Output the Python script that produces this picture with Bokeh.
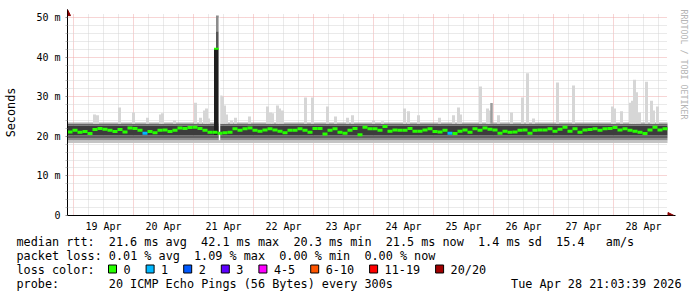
import re
from bokeh.plotting import figure
from bokeh.models import Range1d, FixedTicker, Arrow, NormalHead, Title, Grid
from bokeh.layouts import column
from bokeh.core.properties import value
from bokeh.embed import file_html
from bokeh.resources import INLINE

# ---------------- data ----------------
# time is in hours since 18 Apr 2026 00:00
t_start = 21.6
t_end = 261.6
bin_hours = 2.0

day_labels = ["19 Apr", "20 Apr", "21 Apr", "22 Apr", "23 Apr",
              "24 Apr", "25 Apr", "26 Apr", "27 Apr", "28 Apr"]
y_ticks = [0, 10, 20, 30, 40, 50]
y_tick_labels = ["0", "10 m", "20 m", "30 m", "40 m", "50 m"]

# median rtt (ms) per 2-hour bin
median_ms = [
    21.1, 21.5, 21.0, 21.2, 20.7, 21.7, 22.0, 21.8, 21.5, 21.2,
    21.7, 21.1, 22.1, 22.0, 21.5, 20.8, 21.2, 20.9, 21.5, 21.6,
    21.2, 21.5, 22.1, 22.0, 22.2, 22.3, 22.0, 21.5, 21.0, 21.0,
    20.8, 20.9, 21.0, 21.9, 21.5, 21.9, 22.1, 21.5, 21.3, 21.6,
    21.9, 21.6, 21.3, 20.9, 21.5, 21.5, 21.9, 21.5, 21.0, 22.0,
    22.0, 20.6, 21.5, 21.9, 21.0, 20.8, 21.5, 22.0, 20.4, 22.3,
    21.9, 21.9, 21.5, 22.5, 21.3, 21.6, 21.5, 21.5, 22.0, 21.3,
    21.3, 21.6, 21.9, 21.2, 21.1, 21.5, 20.8, 20.7, 21.3, 21.6,
    21.0, 21.9, 21.5, 22.1, 21.8, 21.6, 20.8, 21.3, 21.0, 21.1,
    21.5, 21.6, 20.8, 21.5, 21.6, 21.6, 21.9, 21.3, 21.8, 22.3,
    21.3, 21.9, 21.0, 21.6, 21.7, 21.9, 21.5, 21.9, 22.0, 22.2,
    21.6, 21.9, 21.5, 21.3, 21.0, 20.7, 21.6, 22.3, 21.6, 21.9,
]
# lost pings (of 20) per bin
median_loss = [
    0, 0, 0, 0, 0, 0, 0, 0, 0, 0,
    0, 0, 0, 0, 0, 1, 0, 0, 0, 0,
    0, 0, 0, 0, 0, 0, 0, 0, 0, 0,
    0, 0, 0, 0, 0, 0, 0, 0, 0, 0,
    0, 0, 0, 0, 0, 0, 0, 0, 0, 0,
    0, 0, 0, 0, 0, 0, 0, 0, 0, 0,
    0, 0, 0, 0, 0, 0, 0, 0, 0, 0,
    0, 0, 0, 0, 0, 0, 1, 0, 0, 0,
    0, 0, 0, 0, 0, 0, 0, 0, 0, 0,
    0, 0, 0, 0, 0, 0, 0, 0, 0, 0,
    0, 0, 0, 0, 0, 0, 0, 0, 0, 0,
    0, 0, 0, 0, 0, 0, 0, 0, 0, 0,
]

# smoke (ping spread) levels in ms, bottom to top
smoke_levels = [18.3, 19.0, 19.6, 20.2, 22.7, 23.2, 23.5]
smoke_shades = ["#c4c4c4", "#8e8e8e", "#616161", "#3c3c3c", "#656565", "#a6a6a6"]

# single slow pings above the smoke: time (h) and rtt (ms)
spike_time = [32.4, 33.6, 42.4, 48.0, 53.6, 58.8, 59.6, 64.4, 72.8, 74.8,
              76.4, 77.2, 78.0, 83.0, 83.6, 84.4, 85.2, 87.2, 88.8, 94.4,
              101.6, 102.8, 103.6, 105.6, 106.4, 107.6, 116.8, 119.6, 125.6, 128.8,
              133.6, 135.6, 144.0, 147.6, 156.4, 158.0, 162.0, 170.4, 176.0, 178.0,
              178.8, 186.8, 189.6, 190.4, 194.0, 199.2, 203.6, 205.6, 208.0, 217.6,
              224.0, 239.6, 240.4, 243.2, 246.8, 247.6, 248.4, 249.2, 250.4, 253.2,
              255.2, 256.0, 257.6]
spike_ms = [25.5, 25.3, 27.3, 26.0, 24.7, 25.5, 25.8, 24.0, 28.5, 24.7,
            26.5, 27.0, 24.5, 30.3, 30.0, 27.8, 25.5, 24.0, 24.7, 25.0,
            27.5, 26.0, 25.8, 27.8, 27.0, 26.5, 29.8, 29.8, 27.5, 25.0,
            24.7, 25.3, 24.0, 23.8, 27.0, 26.3, 25.3, 24.7, 25.3, 27.3,
            25.5, 32.6, 27.0, 26.5, 25.3, 26.0, 29.8, 35.9, 24.5, 33.6,
            32.8, 27.5, 27.0, 26.3, 28.5, 29.0, 34.3, 31.1, 26.0, 33.8,
            29.0, 26.5, 27.5]
dense_spike_time = [191.2]
dense_spike_ms = [28.4]

# latency event on 21 Apr
event_start, event_end, gap_end = 80.2, 82.1, 82.7
event_lo, event_med, event_hi = 20.3, 42.1, 50.5

# legend statistics
rtt_avg, rtt_max, rtt_min, rtt_now, rtt_sd, rtt_ams = 21.6, 42.1, 20.3, 21.5, 1.4, 15.4
loss_avg, loss_max, loss_min, loss_now = 0.01, 1.09, 0.00, 0.00
loss_labels = ["0", "1", "2", "3", "4-5", "6-10", "11-19", "20/20"]
loss_colors = ["#26ff00", "#00b8ff", "#0059ff", "#5e00ff", "#ff00ff", "#ff5500", "#ff0000", "#a00000"]
probe_text = "20 ICMP Echo Pings (56 Bytes) every 300s"
stamp_text = "Tue Apr 28 21:03:39 2026"

# ---------------- chart ----------------
MONO = "DejaVu Sans Mono"
PX_H = 0.4          # hours per pixel
PX_MS = 1 / 3.96    # ms per pixel
frame_w, frame_h = 608, 206
x_hi = t_start + frame_w * PX_H
y_hi = frame_h * PX_MS

n_bins = len(median_ms)
bin_left = [t_start + bin_hours * i for i in range(n_bins)]
bin_right = [b + bin_hours for b in bin_left]

p = figure(width=697, height=235, x_range=Range1d(t_start, x_hi), y_range=Range1d(0, y_hi),
           min_border_left=67, min_border_right=22, min_border_top=9, min_border_bottom=20,
           output_backend="svg", toolbar_location=None)
p.frame_align = False
p.outline_line_color = None
p.background_fill_color = "white"
p.border_fill_color = "white"

midnights = [24.0 * (k + 1) for k in range(len(day_labels))]
noons = [m + 12.0 for m in midnights]
six_hourly = [h for h in [24.0 + 6.0 * k for k in range(41)] if h % 24 != 0 and h < t_end]
y_minor = [v for v in range(2, 50, 2) if v % 10]

p.xgrid.ticker = FixedTicker(ticks=midnights, minor_ticks=six_hourly)
p.ygrid.ticker = FixedTicker(ticks=y_ticks, minor_ticks=y_minor)
has_cross = "cross_bounds" in Grid.properties()
for g in (p.xgrid, p.ygrid):
    g.grid_line_color = "#eeaaaa"
    g.grid_line_dash = "1 1"
    g.minor_grid_line_color = "#d4d4d4"
    g.minor_grid_line_dash = "1 1"
if has_cross:
    p.xgrid.cross_bounds = (0, 51.0)
    p.ygrid.cross_bounds = (t_start, t_end)
else:
    p.quad(left=[t_end + 0.3], right=[x_hi], bottom=[0.2], top=[y_hi], fill_color="white", line_color=None)
    p.quad(left=[t_start + 0.3], right=[x_hi], bottom=[51.0], top=[y_hi], fill_color="white", line_color=None)

# smoke band
for lo, hi, shade in zip(smoke_levels[:-1], smoke_levels[1:], smoke_shades):
    p.quad(left=[t_start], right=[t_end], bottom=[lo], top=[hi], fill_color=shade, line_color=None)

# upper outlier pings
top_of_smoke = smoke_levels[-2]
p.quad(left=[t - 0.6 for t in spike_time], right=[t + 0.6 for t in spike_time],
       bottom=[top_of_smoke] * len(spike_time), top=spike_ms, fill_color="#d6d6d6", line_color=None)
p.quad(left=[t - 0.5 for t in dense_spike_time], right=[t + 0.5 for t in dense_spike_time],
       bottom=[top_of_smoke] * len(dense_spike_time), top=dense_spike_ms, fill_color="#9c9c9c", line_color=None)

# event column
p.quad(left=[event_start], right=[event_end], bottom=[event_lo], top=[event_med],
       fill_color="#1e1e1e", line_color=None)
p.quad(left=[event_start + 0.8], right=[event_end], bottom=[event_med], top=[event_med + 4.4],
       fill_color="#555555", line_color=None)
p.quad(left=[event_start + 0.8], right=[event_end], bottom=[event_med + 4.4], top=[event_hi],
       fill_color="#8c8c8c", line_color=None)
p.quad(left=[event_end], right=[gap_end], bottom=[19.0], top=[50.0], fill_color="white", line_color=None)

# median
p.segment(x0=bin_left, x1=bin_right, y0=median_ms, y1=median_ms,
          line_color=[loss_colors[l] for l in median_loss], line_width=3)
p.segment(x0=[event_start], x1=[event_end], y0=[event_med], y1=[event_med],
          line_color=loss_colors[0], line_width=2)

# axes
p.xaxis.ticker = FixedTicker(ticks=noons)
p.xaxis.major_label_overrides = {n: lab for n, lab in zip(noons, day_labels)}
p.xaxis.major_tick_out = 0
p.xaxis.major_tick_in = 0
p.xaxis.minor_tick_out = 0
p.xaxis.major_label_standoff = 5
p.yaxis.ticker = FixedTicker(ticks=y_ticks, minor_ticks=y_minor)
p.yaxis.major_label_overrides = {v: lab for v, lab in zip(y_ticks, y_tick_labels)}
p.yaxis.major_tick_out = 2
p.yaxis.major_tick_in = 0
p.yaxis.minor_tick_out = 2
p.yaxis.minor_tick_in = 0
p.yaxis.major_label_standoff = 5
p.yaxis.axis_label = "Seconds"
p.yaxis.axis_label_text_font = MONO
p.yaxis.axis_label_text_font_size = "11.8px"
p.yaxis.axis_label_text_font_style = "normal"
p.yaxis.axis_label_text_color = "black"
p.yaxis.axis_label_standoff = 15
for ax in (p.xaxis, p.yaxis):
    ax.major_label_text_font = MONO
    ax.major_label_text_font_size = "10px"
    ax.major_label_text_color = "black"
    ax.axis_line_color = "black"
    ax.major_tick_line_color = "#909090"
    ax.minor_tick_line_color = "#c0c0c0"

head_color = "#8b0000"
p.add_layout(Arrow(x_start=t_start, y_start=0, x_end=t_start, y_end=52.0,
                   line_color="black", line_width=1,
                   end=NormalHead(size=6, fill_color=head_color, line_color=head_color)))
p.add_layout(Arrow(x_start=t_start, y_start=0, x_end=264.2, y_end=0,
                   line_color="black", line_width=1,
                   end=NormalHead(size=6, fill_color=head_color, line_color=head_color)))

p.add_layout(Title(text="RRDTOOL / TOBI OETIKER", text_font=MONO, text_font_size="8.3px",
                   text_font_style="normal", text_color="#b4b4b4", align="left", standoff=7),
             "right")

# ---------------- legend area ----------------
q = figure(width=697, height=62, x_range=Range1d(0, 697), y_range=Range1d(297, 235),
           min_border=0, min_border_left=0, min_border_right=0, min_border_top=0, min_border_bottom=0,
           x_axis_type=None, y_axis_type=None,
           output_backend="svg", toolbar_location=None)
q.frame_align = False
q.outline_line_color = None
q.grid.visible = False

char_w = 7.1
x0 = 16
txt_kw = dict(text_font=value(MONO), text_font_size=value("11.8px"), text_color="black",
              text_baseline="middle", text_align="left")


def put_line(line, y):
    xs, ts = [], []
    for m in re.finditer(r"\S+(?: \S+)*", line):
        xs.append(x0 + char_w * m.start())
        ts.append(m.group(0))
    q.text(x=xs, y=[y] * len(xs), text=ts, **txt_kw)


line1 = (f"median rtt:  {rtt_avg:.1f} ms avg  {rtt_max:.1f} ms max  {rtt_min:.1f} ms min  "
         f"{rtt_now:.1f} ms now  {rtt_sd:.1f} ms sd  {rtt_ams:.1f}   am/s")
line2 = (f"packet loss: {loss_avg:.2f} % avg  {loss_max:.2f} % max  {loss_min:.2f} % min  "
         f"{loss_now:.2f} % now")
line4 = f"probe:       {probe_text}"
put_line(line1, 241)
put_line(line2, 255)
put_line("loss color:", 269)
put_line(line4, 283)
q.text(x=[681], y=[283], text=[stamp_text],
       **{**txt_kw, "text_align": "right"})

sq_x, sq_lbl_x = [], []
x = 108.0
for lab in loss_labels:
    sq_x.append(x)
    sq_lbl_x.append(x + 15)
    x += 15 + char_w * len(lab) + 15.5
q.quad(left=sq_x, right=[s + 8 for s in sq_x], top=[264.5] * len(sq_x), bottom=[272.5] * len(sq_x),
       fill_color=loss_colors, line_color="black", line_width=1)
q.text(x=sq_lbl_x, y=[269] * len(sq_lbl_x), text=loss_labels, **txt_kw)

layout = column(p, q, spacing=0)
open("out.html", "w").write(file_html(layout, INLINE))
